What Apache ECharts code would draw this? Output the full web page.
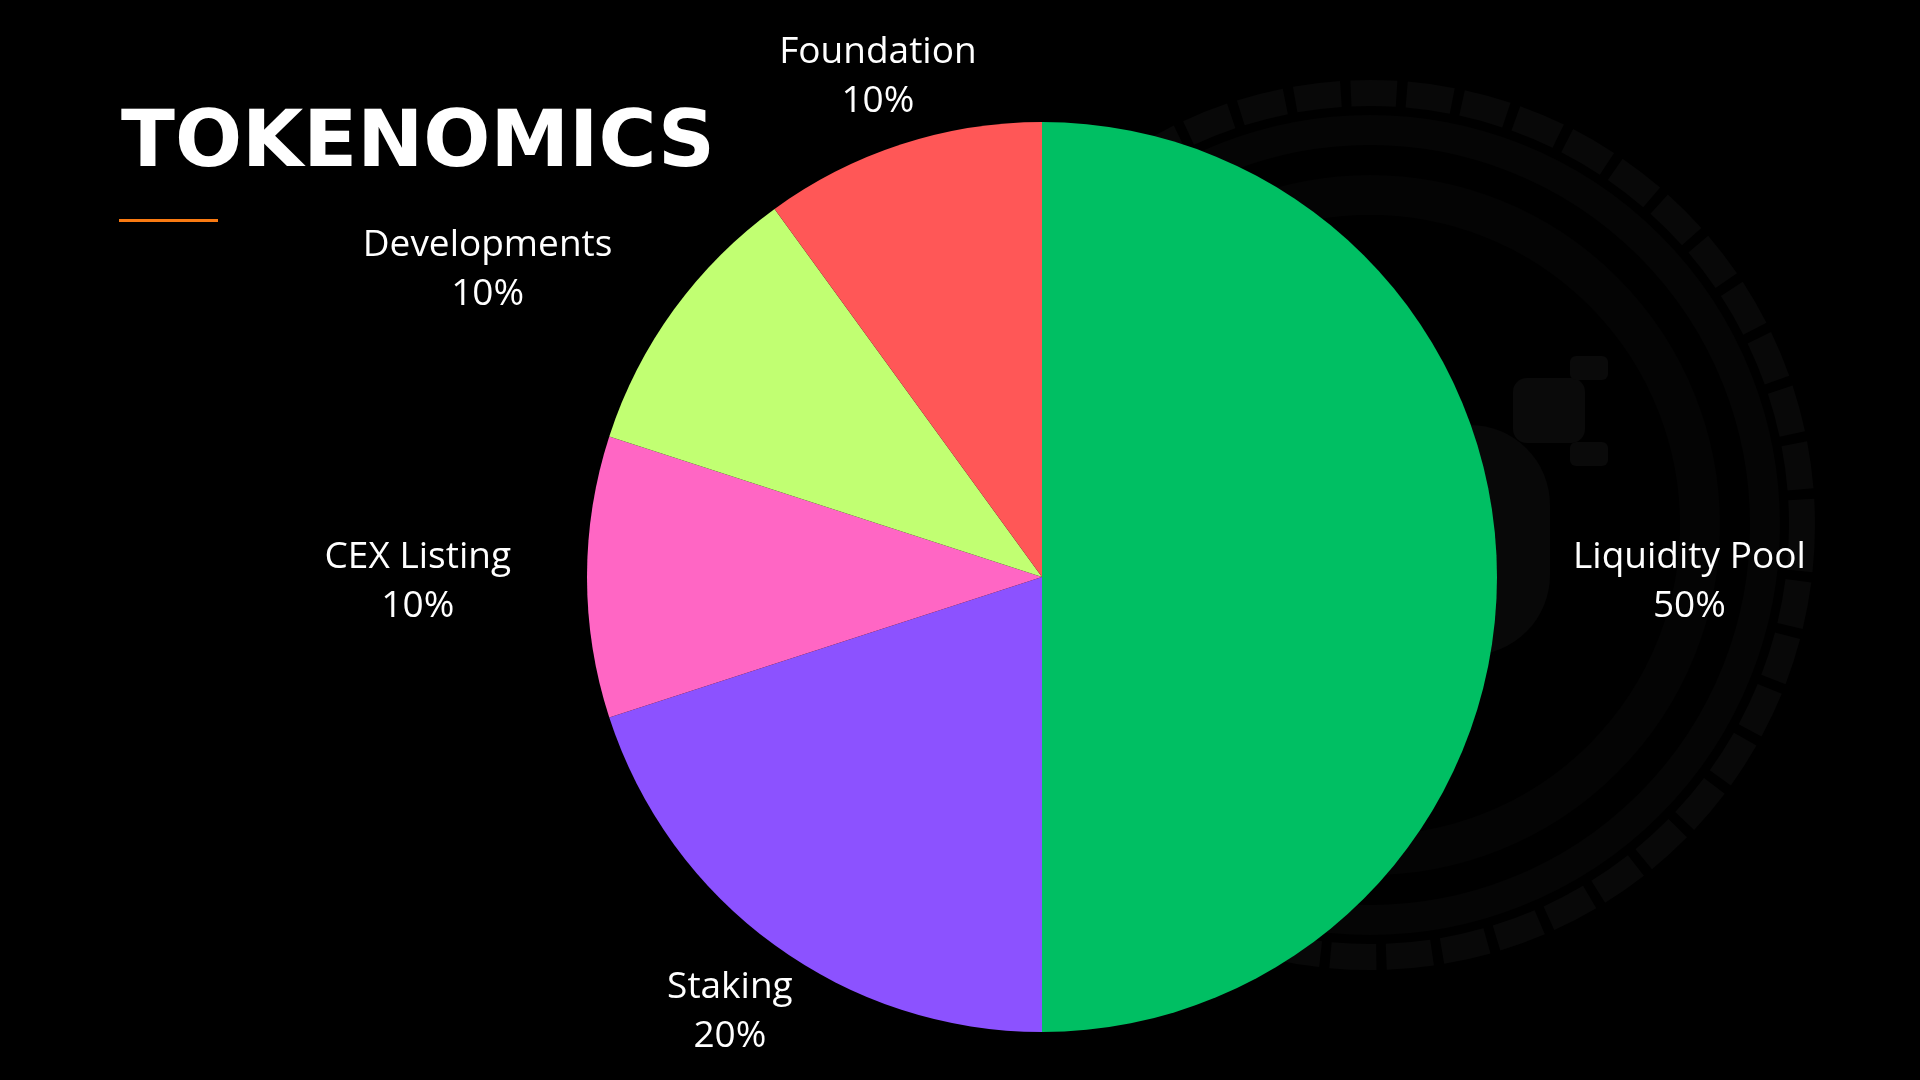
<!DOCTYPE html>
<html>
<head>
<meta charset="utf-8">
<script src="https://cdn.jsdelivr.net/npm/echarts@6/dist/echarts.min.js"></script>
<style>
  html, body { margin: 0; padding: 0; background: #000; }
  #chart { width: 1920px; height: 1080px; }
</style>
</head>
<body>
<div id="chart"></div>
<script>
// ---- data ----
const titleText = 'TOKENOMICS';
const categories = ['Liquidity Pool', 'Staking', 'CEX Listing', 'Developments', 'Foundation'];
const values = [50, 20, 10, 10, 10];
const colors = ['#00BF63', '#8C52FF', '#FF66C4', '#C1FF72', '#FF5757'];

// ---- layout constants ----
const CX = 1042, CY = 577, R = 455, LABEL_GAP = 76;

const chart = echarts.init(document.getElementById('chart'), null, { renderer: 'canvas' });
const total = values.reduce((a, b) => a + b, 0);

const option = {
  backgroundColor: '#000000',
  animation: false,
  title: {
    text: titleText,
    left: 116,
    top: 101,
    textStyle: {
      color: '#ffffff',
      fontFamily: 'DejaVu Sans',
      fontWeight: 'bold',
      fontSize: 79,
      lineHeight: 79
    }
  },
  graphic: [
    // faint decorative coin ring in the background
    {
      type: 'circle', z: -10, silent: true,
      shape: { cx: 1370, cy: 525, r: 432 },
      style: { fill: 'none', stroke: '#080808', lineWidth: 26, lineDash: [46, 10] }
    },
    {
      type: 'circle', z: -10, silent: true,
      shape: { cx: 1370, cy: 525, r: 395 },
      style: { fill: 'none', stroke: '#050505', lineWidth: 30 }
    },
    {
      type: 'circle', z: -10, silent: true,
      shape: { cx: 1370, cy: 525, r: 330 },
      style: { fill: 'none', stroke: '#040404', lineWidth: 40 }
    },
    {
      type: 'rect', z: -10, silent: true,
      shape: { x: 1513, y: 378, width: 72, height: 65, r: 14 },
      style: { fill: '#0a0a0a' }
    },
    {
      type: 'rect', z: -10, silent: true,
      shape: { x: 1570, y: 356, width: 38, height: 24, r: 6 },
      style: { fill: '#0a0a0a' }
    },
    {
      type: 'rect', z: -10, silent: true,
      shape: { x: 1570, y: 442, width: 38, height: 24, r: 6 },
      style: { fill: '#0a0a0a' }
    },
    {
      type: 'rect', z: -10, silent: true,
      shape: { x: 1390, y: 425, width: 160, height: 230, r: 80 },
      style: { fill: '#080808' }
    },
    // orange underline
    {
      type: 'rect', silent: true,
      shape: { x: 119, y: 219, width: 99, height: 3 },
      style: { fill: '#F97A12' }
    }
  ],
  series: [{
    type: 'pie',
    center: [CX, CY],
    radius: [0, R],
    startAngle: 90,
    clockwise: true,
    avoidLabelOverlap: false,
    silent: true,
    itemStyle: { borderWidth: 0 },
    label: {
      show: true,
      position: 'outside',
      formatter: '{b}\n{c}%',
      color: '#ffffff',
      fontFamily: 'Open Sans',
      fontSize: 37,
      lineHeight: 49,
      align: 'center'
    },
    labelLine: { show: false },
    labelLayout: function (p) {
      const i = p.dataIndex;
      let before = 0;
      for (let k = 0; k < i; k++) before += values[k];
      const mid = (before + values[i] / 2) / total * Math.PI * 2;
      const dx = Math.sin(mid), dy = -Math.cos(mid);
      const d = R + LABEL_GAP;
      let x = CX + d * dx;
      const w = p.labelRect ? p.labelRect.width : 0;
      if (dx > 0.7) x += w / 2;
      else if (dx < -0.7) x -= w / 2;
      return { x: x, y: CY + d * dy + 5, align: 'center', verticalAlign: 'middle', hideOverlap: false };
    },
    data: categories.map((name, i) => ({ name: name, value: values[i], itemStyle: { color: colors[i] } }))
  }]
};

chart.setOption(option);
</script>
</body>
</html>
